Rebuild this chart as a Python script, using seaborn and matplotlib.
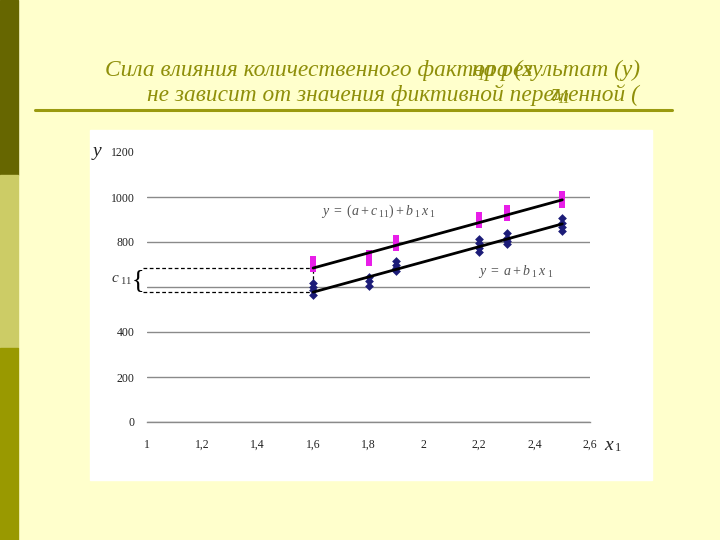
import matplotlib
matplotlib.use("Agg")
import matplotlib.pyplot as plt
import pandas as pd
import numpy as np
import seaborn as sns

# points
x_pink = [1.6, 1.6, 1.6, 1.6, 1.8, 1.8, 1.8, 1.8, 1.9, 1.9, 1.9, 1.9,
          2.2, 2.2, 2.2, 2.2, 2.3, 2.3, 2.3, 2.3, 2.5, 2.5, 2.5, 2.5]
y_pink = [725, 710, 695, 680, 750, 735, 720, 705, 820, 805, 790, 775,
          920, 905, 890, 875, 950, 935, 920, 905, 1015, 1000, 985, 965]
x_navy = [1.6, 1.6, 1.6, 1.6, 1.8, 1.8, 1.8, 1.9, 1.9, 1.9, 1.9,
          2.2, 2.2, 2.2, 2.2, 2.3, 2.3, 2.3, 2.3, 2.5, 2.5, 2.5, 2.5]
y_navy = [620, 600, 585, 565, 645, 625, 605, 715, 700, 685, 670,
          815, 795, 775, 755, 840, 820, 805, 790, 905, 885, 865, 850]

# fitted lines y = a + b1*x1 and y = (a + c11) + b1*x1
a = 38
b1 = 337
c11 = 107
line_x = [1.6, 2.5]

x_ticks = [1, 1.2, 1.4, 1.6, 1.8, 2, 2.2, 2.4, 2.6]
x_labels = ['1', '1,2', '1,4', '1,6', '1,8', '2', '2,2', '2,4', '2,6']
y_ticks = [0, 200, 400, 600, 800, 1000, 1200]
y_labels = ['0', '200', '400', '', '800', '1000', '1200']

sns.set_style("white")
plt.rcParams['font.family'] = ['Liberation Serif', 'DejaVu Serif']
plt.rcParams['mathtext.fontset'] = 'custom'
plt.rcParams['mathtext.rm'] = 'Liberation Serif'
plt.rcParams['mathtext.it'] = 'Liberation Serif:italic'

bg = '#FFFFCC'
olive = '#8f8f0a'
fig = plt.figure(figsize=(7.2, 5.4), dpi=100, facecolor=bg)

# slide decoration
fig.patches.append(plt.Rectangle((0, 1 - 175 / 540), 18 / 720, 175 / 540, transform=fig.transFigure,
                                 color='#666600', zorder=-2))
fig.patches.append(plt.Rectangle((0, 1 - 348 / 540), 18 / 720, 173 / 540, transform=fig.transFigure,
                                 color='#CCCC66', zorder=-2))
fig.patches.append(plt.Rectangle((0, 0), 18 / 720, 192 / 540, transform=fig.transFigure,
                                 color='#999900', zorder=-2))
fig.add_artist(plt.Line2D([35 / 720, 672 / 720], [1 - 110 / 540] * 2, color='#9a9a10', lw=2.2))
fig.patches.append(plt.Rectangle((90 / 720, 1 - 480 / 540), 562 / 720, 350 / 540,
                                 transform=fig.transFigure, color='white', zorder=-2))

# title (overlapping text as on the slide)
tkw = dict(fontsize=16.8, style='italic', color=olive, va='center')
fig.text(105 / 720, 1 - 70 / 540, 'Сила влияния количественного фактора (x', ha='left', **tkw)
fig.text(640 / 720, 1 - 70 / 540, 'на результат (y)', ha='right', **tkw)
fig.text(478 / 720, 1 - 76 / 540, '1', ha='left', fontsize=10, style='italic', color=olive, va='center')
fig.text(147 / 720, 1 - 95 / 540, 'не зависит от значения фиктивной переменной (', ha='left', **tkw)
fig.text(550 / 720, 1 - 95 / 540, 'z', ha='left', fontsize=16.8, style='italic', color=olive, va='center')
fig.text(558 / 720, 1 - 100 / 540, '11', ha='left', fontsize=10, style='italic', color=olive, va='center')

ax = fig.add_axes([147 / 720, 1 - 422 / 540, 443 / 720, 270 / 540])
ax.set_zorder(3)
ax.set_facecolor('none')

pts = pd.concat([pd.DataFrame({'x1': x_pink, 'y': y_pink, 'grp': 'z=1'}),
                 pd.DataFrame({'x1': x_navy, 'y': y_navy, 'grp': 'z=0'})], ignore_index=True)
sns.scatterplot(data=pts[pts.grp == 'z=1'], x='x1', y='y', ax=ax, marker='s', s=22,
                color='#E81EE8', edgecolor='#E81EE8', linewidth=0, zorder=3, legend=False)
sns.scatterplot(data=pts[pts.grp == 'z=0'], x='x1', y='y', ax=ax, marker='D', s=20,
                color='#1c1c78', edgecolor='#1c1c78', linewidth=0, zorder=3, legend=False)

lx = np.array(line_x)
lines = pd.DataFrame({'x1': np.r_[lx, lx],
                      'y': np.r_[a + c11 + b1 * lx, a + b1 * lx],
                      'grp': ['up', 'up', 'low', 'low']})
sns.lineplot(data=lines, x='x1', y='y', units='grp', estimator=None, color='black', lw=2, ax=ax, zorder=4)

# c11 shift markers
y_up = a + c11 + b1 * line_x[0]
y_low = a + b1 * line_x[0]
for yy in (y_up, y_low):
    ax.plot([0.985, line_x[0]], [yy, yy], color='black', lw=0.9, ls=(0, (3, 2)), clip_on=False, zorder=2)
ax.plot([line_x[0], line_x[0]], [y_low, y_up], color='black', lw=0.9, ls=(0, (3, 2)), zorder=2)
ax.text(0.99, (y_up + y_low) / 2, '{', fontsize=19, ha='right', va='center', color='black')
ax.text(0.87, (y_up + y_low) / 2, r'$c_{\ 11}$', fontsize=11, ha='left', va='center', color='#333333')

ax.text(1.63, 935, r'$y\ =\ (a+c_{\ 11})+b_{\ 1}\,x_{\ 1}$', fontsize=10, color='#555555', va='center')
ax.text(2.195, 668, r'$y\ =\ a+b_{\ 1}\,x_{\ 1}$', fontsize=10, color='#555555', va='center')

ax.set_xlim(1, 2.6)
ax.set_ylim(0, 1200)
ax.set_xticks(x_ticks)
ax.set_xticklabels(x_labels)
ax.set_yticks(y_ticks)
ax.set_yticklabels(y_labels)
ax.set_xlabel('')
ax.set_ylabel('')
ax.grid(axis='y', color='#8a8a8a', lw=1)
ax.grid(axis='x', visible=False)
ax.yaxis.get_gridlines()[-1].set_visible(False)
ax.set_axisbelow(True)
for s in ['top', 'right', 'left']:
    ax.spines[s].set_visible(False)
ax.spines['bottom'].set_color('#8a8a8a')
ax.spines['bottom'].set_linewidth(1)
ax.tick_params(axis='x', direction='out', length=4, color='#8a8a8a', pad=8, labelsize=8.5, labelcolor='#222222')
ax.tick_params(axis='y', length=0, pad=9, labelsize=8.5, labelcolor='#222222')

fig.text(97 / 720, 1 - 152 / 540, 'y', fontsize=14, style='italic', ha='center', va='center')
fig.text(604 / 720, 1 - 445 / 540, 'x', fontsize=14, style='italic', ha='left', va='center')
fig.text(615 / 720, 1 - 448 / 540, '1', fontsize=9, ha='left', va='center')

fig.savefig('out.png', dpi=100, facecolor=bg)
